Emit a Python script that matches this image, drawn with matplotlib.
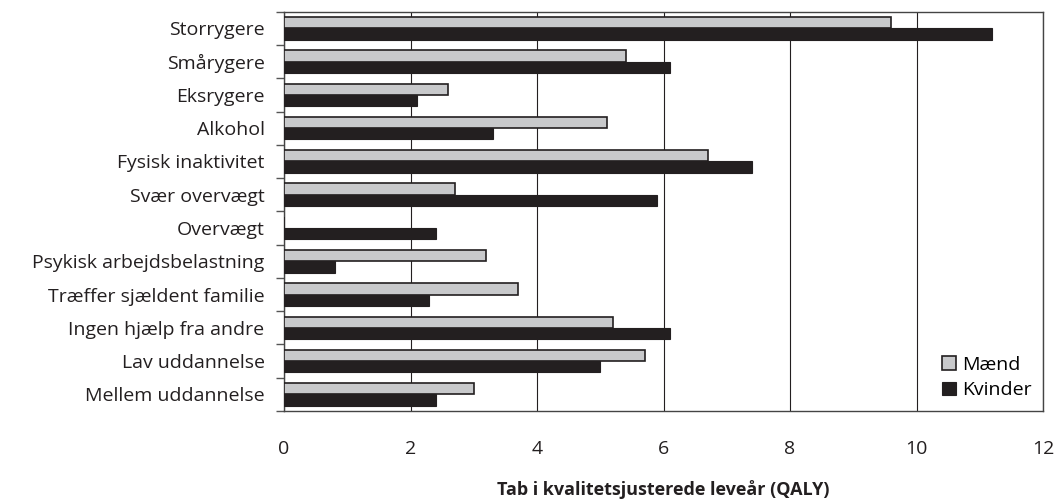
import matplotlib.pyplot as plt
import numpy as np

categories = ['Storrygere', 'Smårygere', 'Eksrygere', 'Alkohol', 'Fysisk inaktivitet',
              'Svær overvægt', 'Overvægt', 'Psykisk arbejdsbelastning',
              'Træffer sjældent familie', 'Ingen hjælp fra andre', 'Lav uddannelse',
              'Mellem uddannelse']
maend = [9.6, 5.4, 2.6, 5.1, 6.7, 2.7, 0.0, 3.2, 3.7, 5.2, 5.7, 3.0]
kvinder = [11.2, 6.1, 2.1, 3.3, 7.4, 5.9, 2.4, 0.8, 2.3, 6.1, 5.0, 2.4]
x_ticks = [0, 2, 4, 6, 8, 10, 12]

plt.rcParams['font.family'] = ['Open Sans', 'DejaVu Sans']
text_col = '#231f20'
fs = 14

fig = plt.figure(figsize=(10.57, 5.04), dpi=100)
ax = fig.add_axes([0.2687, 0.1845, 0.7181, 0.7923])

y = np.arange(len(categories))
h = 0.34
ax.barh(y - h / 2, maend, height=h, color='#c8c9cb', edgecolor=text_col,
        linewidth=1.2, label='Mænd', zorder=3)
ax.barh(y + h / 2, kvinder, height=h, color=text_col, edgecolor=text_col,
        linewidth=0.8, label='Kvinder', zorder=3)

ax.set_xlim(0, 12)
ax.set_ylim(len(categories) - 0.5, -0.5)
ax.set_xticks(x_ticks)
ax.set_xticklabels([str(t) for t in x_ticks], fontsize=fs, color=text_col)
ax.tick_params(axis='x', length=0, pad=21)

# category boundaries as ticks, labels centred between them
ax.set_yticks(np.arange(len(categories) + 1) - 0.5)
ax.set_yticklabels([])
ax.tick_params(axis='y', which='major', length=6, width=1, color='#555555')
ax.set_yticks(y, minor=True)
ax.set_yticklabels(categories, minor=True, fontsize=fs, color=text_col)
ax.tick_params(axis='y', which='minor', length=0, pad=14)

ax.grid(axis='x', color=text_col, linewidth=0.8, zorder=0)
for s in ax.spines.values():
    s.set_color('#444444')
    s.set_linewidth(1.0)

ax.set_xlabel('Tab i kvalitetsjusterede leveår (QALY)', fontsize=13,
              fontweight='bold', color=text_col, labelpad=16)

ax.legend(loc='lower right', frameon=False, fontsize=fs, handlelength=0.7,
          handleheight=0.7, handletextpad=0.3, labelspacing=0.4,
          bbox_to_anchor=(1.0, 0.0), borderaxespad=0.2)

fig.savefig('out.png', dpi=100)
